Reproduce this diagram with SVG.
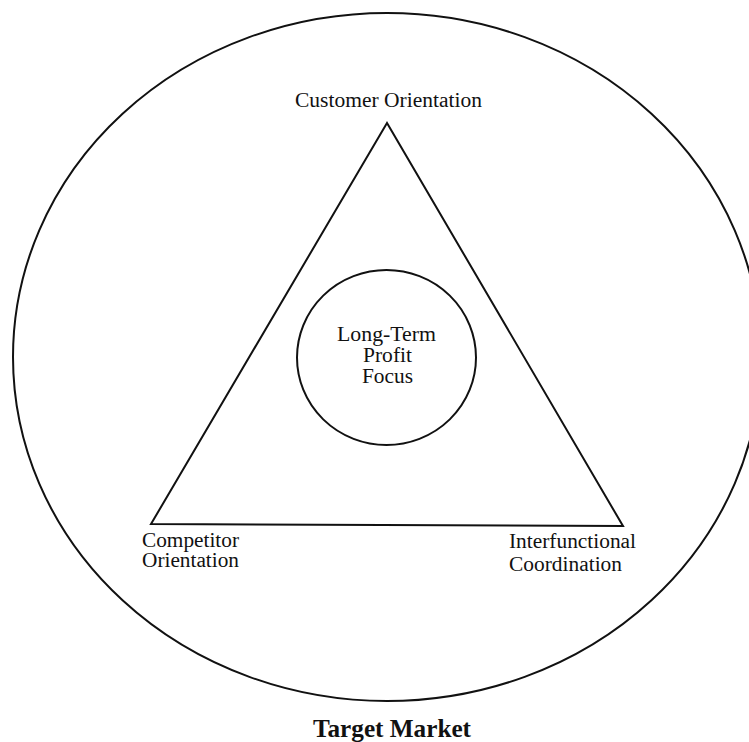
<svg xmlns="http://www.w3.org/2000/svg" width="749" height="742" viewBox="0 0 749 742">
<style>
.shape{fill:none;stroke:#111;stroke-width:2}
.lbl{font-family:"Liberation Serif","Times New Roman",serif;font-size:20px;fill:#111}
.title{font-family:"Liberation Serif","Times New Roman",serif;font-size:25px;font-weight:bold;fill:#111}
</style>
<rect width="749" height="742" fill="#fff"/>
<g id="target-market">
<ellipse class="shape" cx="387" cy="357" rx="374" ry="344"/>
<text class="title" x="313" y="737" textLength="158" lengthAdjust="spacingAndGlyphs">Target Market</text>
</g>
<g id="connectors">
<polygon class="shape" points="387,123 151,524 623,526" stroke-linejoin="miter"/>
</g>
<g id="long-term-profit-focus">
<ellipse class="shape" cx="386.5" cy="357.5" rx="89.5" ry="87.5"/>
<text class="lbl" x="337" y="341" textLength="99" lengthAdjust="spacingAndGlyphs">Long-Term</text>
<text class="lbl" x="363" y="362" textLength="49" lengthAdjust="spacingAndGlyphs">Profit</text>
<text class="lbl" x="362" y="383" textLength="51" lengthAdjust="spacingAndGlyphs">Focus</text>
</g>
<g id="customer-orientation">
<text class="lbl" x="295" y="107" textLength="187" lengthAdjust="spacingAndGlyphs">Customer Orientation</text>
</g>
<g id="competitor-orientation">
<text class="lbl" x="142" y="547" textLength="97" lengthAdjust="spacingAndGlyphs">Competitor</text>
<text class="lbl" x="142" y="567" textLength="97" lengthAdjust="spacingAndGlyphs">Orientation</text>
</g>
<g id="interfunctional-coordination">
<text class="lbl" x="509" y="548" textLength="127" lengthAdjust="spacingAndGlyphs">Interfunctional</text>
<text class="lbl" x="509" y="571" textLength="113" lengthAdjust="spacingAndGlyphs">Coordination</text>
</g>
</svg>
